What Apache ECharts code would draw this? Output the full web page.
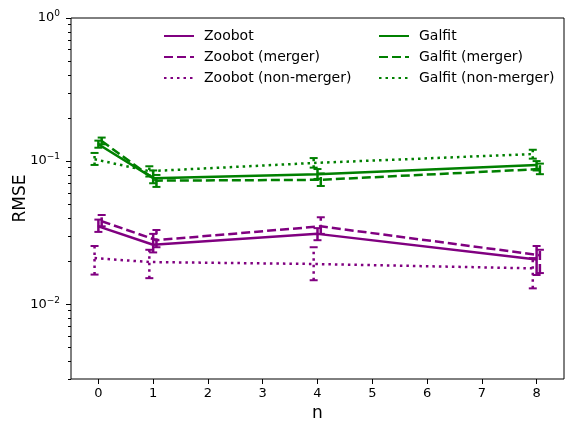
<!DOCTYPE html>
<html>
<head>
<meta charset="utf-8">
<script src="https://cdn.jsdelivr.net/npm/echarts@6/dist/echarts.min.js"></script>
<style>
html, body { margin: 0; padding: 0; background: #fff; }
#chart { width: 576px; height: 432px; }
</style>
</head>
<body>
<div id="chart"></div>
<script>
// n values and horizontal offsets used for each subset
const nValues = [0, 1, 4, 8];
const xTicks = [0, 1, 2, 3, 4, 5, 6, 7, 8];
const yMajorTicks = [0.01, 0.1, 1];
const yMinorTicks = [0.003, 0.004, 0.005, 0.006, 0.007, 0.008, 0.009,
    0.02, 0.03, 0.04, 0.05, 0.06, 0.07, 0.08, 0.09,
    0.2, 0.3, 0.4, 0.5, 0.6, 0.7, 0.8, 0.9];

// RMSE, lower, upper
const zoobotAll = [0.035, 0.026, 0.031, 0.0205];
const zoobotAllLo = [0.032, 0.023, 0.028, 0.016];
const zoobotAllHi = [0.039, 0.031, 0.034, 0.0255];
const zoobotMerger = [0.038, 0.028, 0.035, 0.022];
const zoobotMergerLo = [0.035, 0.025, 0.031, 0.0165];
const zoobotMergerHi = [0.042, 0.033, 0.0405, 0.024];
const zoobotNon = [0.021, 0.0197, 0.0191, 0.0178];
const zoobotNonLo = [0.0161, 0.0152, 0.0147, 0.0129];
const zoobotNonHi = [0.0255, 0.024, 0.025, 0.021];

const galfitAll = [0.131, 0.076, 0.081, 0.094];
const galfitAllLo = [0.124, 0.07, 0.075, 0.086];
const galfitAllHi = [0.139, 0.086, 0.088, 0.1];
const galfitMerger = [0.138, 0.073, 0.074, 0.088];
const galfitMergerLo = [0.131, 0.066, 0.067, 0.081];
const galfitMergerHi = [0.146, 0.08, 0.082, 0.096];
const galfitNon = [0.103, 0.085, 0.097, 0.112];
const galfitNonLo = [0.094, 0.078, 0.09, 0.104];
const galfitNonHi = [0.114, 0.092, 0.105, 0.12];

const PURPLE = '#800080';
const GREEN = '#008000';
const LW = 2.5;
const DASH = [9, 4];
const DOT = [2.5, 4];

function pts(vals, off) {
    return nValues.map((n, i) => [n + off, vals[i]]);
}
function bars(lo, hi, off) {
    return nValues.map((n, i) => [n + off, lo[i], hi[i]]);
}

function lineSeries(name, vals, off, color, dash) {
    return {
        name: name,
        type: 'line',
        data: pts(vals, off),
        symbol: 'none',
        lineStyle: { color: color, width: LW, type: dash },
        itemStyle: { color: color },
        z: 3
    };
}

function errSeries(lo, hi, off, color, dash) {
    return {
        type: 'custom',
        data: bars(lo, hi, off),
        z: 4,
        renderItem: function (params, api) {
            const x = api.value(0);
            const a = api.coord([x, api.value(1)]);
            const b = api.coord([x, api.value(2)]);
            const w = 4;
            return {
                type: 'group',
                children: [
                    { type: 'line', shape: { x1: a[0], y1: a[1], x2: b[0], y2: b[1] },
                      style: { stroke: color, lineWidth: LW, lineDash: dash === 'solid' ? null : dash } },
                    { type: 'line', shape: { x1: a[0] - w, y1: a[1], x2: a[0] + w, y2: a[1] },
                      style: { stroke: color, lineWidth: 2 } },
                    { type: 'line', shape: { x1: b[0] - w, y1: b[1], x2: b[0] + w, y2: b[1] },
                      style: { stroke: color, lineWidth: 2 } }
                ]
            };
        }
    };
}

const OFF_M = 0.06, OFF_N = -0.07;

const legendBase = {
    orient: 'vertical', top: 24,
    itemWidth: 30, itemHeight: 14, itemGap: 7,
    itemStyle: { opacity: 0 },
    textStyle: { fontSize: 14, color: '#000', padding: [0, 0, 0, 5] }
};

var chart = echarts.init(document.getElementById('chart'));
var option = {
    animation: false,
    textStyle: { fontFamily: 'DejaVu Sans' },
    grid: {
        left: 71, right: 12, top: 18, bottom: 53, outerBoundsMode: 'none',
        show: true, borderColor: '#000', borderWidth: 1, backgroundColor: '#fff'
    },
    legend: [
        Object.assign({}, legendBase, { data: ['Zoobot', 'Zoobot (merger)', 'Zoobot (non-merger)'], left: 158 }),
        Object.assign({}, legendBase, { data: ['Galfit', 'Galfit (merger)', 'Galfit (non-merger)'], left: 373 })
    ],
    xAxis: {
        type: 'value', min: -0.5, max: 8.5,
        name: 'n', nameLocation: 'middle', nameGap: 26, nameMoveOverlap: false,
        nameTextStyle: { fontSize: 17, color: '#000' },
        axisLine: { show: false, onZero: false },
        axisTick: { show: true, length: 5, customValues: xTicks, lineStyle: { color: '#000' } },
        axisLabel: { customValues: xTicks, fontSize: 13, color: '#000', margin: 8 },
        splitLine: { show: false }
    },
    yAxis: [
        {
            type: 'log', logBase: 10, min: 0.003, max: 1,
            name: 'RMSE', nameLocation: 'middle', nameGap: 42, nameMoveOverlap: false,
            nameTextStyle: { fontSize: 17, color: '#000' },
            axisLine: { show: false, onZero: false },
            axisTick: { show: true, length: 5, customValues: yMajorTicks, lineStyle: { color: '#000', width: 1 } },
            axisLabel: {
                customValues: yMajorTicks, color: '#000', margin: 11,
                formatter: function (v) {
                    const e = Math.round(Math.log10(v));
                    return '10{sup|' + (e < 0 ? '\u2212' + (-e) : e) + '}';
                },
                rich: { sup: { fontSize: 9, color: '#000', padding: [0, 0, 8, 0] } },
                fontSize: 13
            },
            splitLine: { show: false },
            minorTick: { show: false },
            z: 5
        },
        {
            type: 'log', logBase: 10, min: 0.003, max: 1, position: 'left',
            axisLine: { show: false, onZero: false },
            axisTick: { show: true, length: 3, customValues: yMinorTicks, lineStyle: { color: '#000', width: 1 } },
            axisLabel: { show: false },
            splitLine: { show: false }
        }
    ],
    series: [
        lineSeries('Zoobot', zoobotAll, 0, PURPLE, 'solid'),
        lineSeries('Zoobot (merger)', zoobotMerger, OFF_M, PURPLE, DASH),
        lineSeries('Zoobot (non-merger)', zoobotNon, OFF_N, PURPLE, DOT),
        lineSeries('Galfit', galfitAll, 0, GREEN, 'solid'),
        lineSeries('Galfit (merger)', galfitMerger, OFF_M, GREEN, DASH),
        lineSeries('Galfit (non-merger)', galfitNon, OFF_N, GREEN, DOT),
        errSeries(zoobotAllLo, zoobotAllHi, 0, PURPLE, 'solid'),
        errSeries(zoobotMergerLo, zoobotMergerHi, OFF_M, PURPLE, DASH),
        errSeries(zoobotNonLo, zoobotNonHi, OFF_N, PURPLE, DOT),
        errSeries(galfitAllLo, galfitAllHi, 0, GREEN, 'solid'),
        errSeries(galfitMergerLo, galfitMergerHi, OFF_M, GREEN, DASH),
        errSeries(galfitNonLo, galfitNonHi, OFF_N, GREEN, DOT)
    ]
};
chart.setOption(option);
</script>
</body>
</html>
